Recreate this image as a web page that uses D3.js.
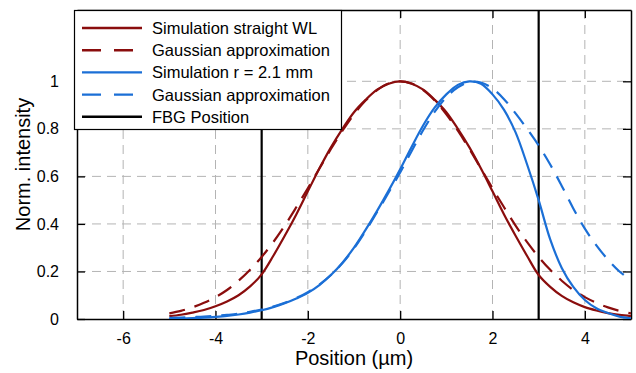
<!DOCTYPE html>
<html>
<head>
<meta charset="utf-8">
<script src="https://cdn.jsdelivr.net/npm/d3@7"></script>
<style>
  body { margin: 0; background: #fff; }
  text { font-family: "Liberation Sans", Arial, sans-serif; fill: #000; }
</style>
</head>
<body>
<div id="viz"></div>
<script>
// chart size
let w = 636;
let h = 373;

// data (position in um, normalised intensity)
let positions = [-5, -4.75, -4.5, -4.25, -4, -3.75, -3.5, -3.25, -3, -2.75, -2.5, -2.25, -2, -1.75, -1.5, -1.25, -1, -0.75, -0.5, -0.25,
                 0, 0.25, 0.5, 0.75, 1, 1.25, 1.5, 1.75, 2, 2.25, 2.5, 2.75, 3, 3.25, 3.5, 3.75, 4, 4.25, 4.5, 4.75, 5];
let simStraight = [0.012, 0.018, 0.027, 0.038, 0.054, 0.074, 0.1, 0.137, 0.188, 0.265, 0.35, 0.44, 0.537, 0.633, 0.722, 0.8, 0.87, 0.922, 0.965, 0.99,
                   1, 0.99, 0.965, 0.922, 0.87, 0.8, 0.722, 0.633, 0.537, 0.44, 0.35, 0.265, 0.185, 0.135, 0.097, 0.07, 0.05, 0.036, 0.025, 0.017, 0.012];
let gaussStraight = [0.024, 0.034, 0.049, 0.068, 0.092, 0.122, 0.161, 0.207, 0.261, 0.323, 0.393, 0.47, 0.55, 0.633, 0.715, 0.792, 0.861, 0.919, 0.963, 0.991,
                     1, 0.991, 0.963, 0.919, 0.861, 0.792, 0.715, 0.633, 0.55, 0.47, 0.393, 0.323, 0.261, 0.207, 0.161, 0.122, 0.092, 0.068, 0.049, 0.034, 0.024];
let simBent = [0.0, 0.002, 0.004, 0.006, 0.009, 0.013, 0.019, 0.027, 0.037, 0.05, 0.066, 0.086, 0.11, 0.143, 0.185, 0.237, 0.3, 0.375, 0.455, 0.54,
               0.63, 0.725, 0.815, 0.89, 0.945, 0.985, 1.0, 0.99, 0.945, 0.88, 0.785, 0.65, 0.5, 0.335, 0.215, 0.135, 0.08, 0.045, 0.025, 0.01, 0.003];
let gaussBent = [0.005, 0.006, 0.008, 0.01, 0.013, 0.017, 0.022, 0.03, 0.04, 0.052, 0.068, 0.088, 0.113, 0.145, 0.185, 0.235, 0.297, 0.37, 0.45, 0.532,
                 0.617, 0.707, 0.795, 0.872, 0.933, 0.975, 0.997, 0.995, 0.97, 0.925, 0.865, 0.8, 0.73, 0.65, 0.56, 0.465, 0.38, 0.31, 0.25, 0.2, 0.163];
let fbgPositions = [-3, 3];

let xTicks = [-6, -4, -2, 0, 2, 4];
let yTicks = [0, 0.2, 0.4, 0.6, 0.8, 1];
let legendLabels = ["Simulation straight WL", "Gaussian approximation", "Simulation r = 2.1 mm", "Gaussian approximation", "FBG Position"];

let red = "#8a0d0d";
let blue = "#1b6fd6";

let viz = d3.select("#viz")
  .append("svg")
    .attr("width", w)
    .attr("height", h)
;

// SCALES
let xScale = d3.scaleLinear().domain([-7, 5]).range([77, 631]);
let yScale = d3.scaleLinear().domain([0, 1.3]).range([319, 10]);

viz.append("defs").append("clipPath").attr("id", "plotclip")
  .append("rect")
    .attr("x", 77).attr("y", 10)
    .attr("width", 631 - 77).attr("height", 319 - 10);

// grid lines
viz.append("g").selectAll("line").data(xTicks).enter()
  .append("line")
    .attr("x1", d => xScale(d)).attr("x2", d => xScale(d))
    .attr("y1", yScale(0)).attr("y2", yScale(1.3))
    .attr("stroke", "#b4b4b4")
    .attr("stroke-width", 1)
    .attr("stroke-dasharray", "9,6");

viz.append("g").selectAll("line").data(yTicks.filter(d => d > 0)).enter()
  .append("line")
    .attr("x1", xScale(-7)).attr("x2", xScale(5))
    .attr("y1", d => yScale(d)).attr("y2", d => yScale(d))
    .attr("stroke", "#b4b4b4")
    .attr("stroke-width", 1)
    .attr("stroke-dasharray", "9,6");

// axes (MATLAB style: ticks inside, box all round)
let tickLen = 8;
let bottomAxis = d3.axisBottom(xScale).tickValues(xTicks).tickSizeInner(-tickLen).tickSizeOuter(0).tickPadding(14)
  .tickFormat(d => d < 0 ? "-" + Math.abs(d) : d);
let leftAxis = d3.axisLeft(yScale).tickValues(yTicks).tickSizeInner(-tickLen).tickSizeOuter(0).tickPadding(18)
  .tickFormat(d3.format("~g"));
let topAxis = d3.axisTop(xScale).tickValues(xTicks).tickSizeInner(-tickLen).tickSizeOuter(0).tickFormat("");
let rightAxis = d3.axisRight(yScale).tickValues(yTicks).tickSizeInner(-tickLen).tickSizeOuter(0).tickFormat("");

function styleAxis(g){
  g.select(".domain").attr("stroke", "#000").attr("stroke-width", 1.5);
  g.selectAll(".tick line").attr("stroke", "#000").attr("stroke-width", 1.3);
  g.selectAll("text").style("font-size", "16px").attr("fill", "#000")
    .style("font-family", "'Liberation Sans', Arial, sans-serif");
}

viz.append("g").attr("transform", "translate(0," + yScale(0) + ")").call(bottomAxis).call(styleAxis);
viz.append("g").attr("transform", "translate(" + xScale(-7) + ",0)").call(leftAxis).call(styleAxis);
viz.append("g").attr("transform", "translate(0," + yScale(1.3) + ")").call(topAxis).call(styleAxis);
viz.append("g").attr("transform", "translate(" + xScale(5) + ",0)").call(rightAxis).call(styleAxis);

// CURVES
let lineMaker = d3.line()
  .x((d, i) => xScale(positions[i]))
  .y(d => yScale(d))
  .curve(d3.curveCatmullRom.alpha(0.5));

let series = [
  { values: simStraight, color: red, dash: null },
  { values: gaussStraight, color: red, dash: "16,10" },
  { values: simBent, color: blue, dash: null },
  { values: gaussBent, color: blue, dash: "16,10" }
];

let curves = viz.append("g").attr("clip-path", "url(#plotclip)");

curves.selectAll(".fbg").data(fbgPositions).enter()
  .append("line")
    .attr("class", "fbg")
    .attr("x1", d => xScale(d)).attr("x2", d => xScale(d))
    .attr("y1", yScale(0)).attr("y2", yScale(1.3))
    .attr("stroke", "#000")
    .attr("stroke-width", 2.2);

curves.selectAll(".curve").data(series).enter()
  .append("path")
    .attr("class", "curve")
    .attr("d", d => lineMaker(d.values))
    .attr("fill", "none")
    .attr("stroke", d => d.color)
    .attr("stroke-width", 2.2)
    .attr("stroke-dasharray", d => d.dash);

// LEGEND
let legendColors = [red, red, blue, blue, "#000"];
let legendDash = [null, "19,13", null, "19,13", null];

let legend = viz.append("g");
legend.append("rect")
  .attr("x", 74.5).attr("y", 10.5)
  .attr("width", 267).attr("height", 119)
  .attr("fill", "#fff")
  .attr("stroke", "#000")
  .attr("stroke-width", 1.2);

let rows = legend.selectAll(".row").data(legendLabels).enter()
  .append("g")
    .attr("class", "row")
    .attr("transform", (d, i) => "translate(0," + (28 + i * 22.2) + ")");

rows.append("line")
  .attr("x1", 82).attr("x2", 142)
  .attr("y1", 0).attr("y2", 0)
  .attr("stroke", (d, i) => legendColors[i])
  .attr("stroke-width", 2.4)
  .attr("stroke-dasharray", (d, i) => legendDash[i]);

rows.append("text")
  .attr("x", 152)
  .attr("y", 6)
  .style("font-size", "16.5px")
  .text(d => d);

// AXIS TITLES
viz.append("text")
  .attr("x", (xScale(-7) + xScale(5)) / 2)
  .attr("y", 365)
  .attr("text-anchor", "middle")
  .style("font-size", "20px")
  .text("Position (µm)");

viz.append("text")
  .attr("transform", "translate(30," + (yScale(0) + yScale(1.3)) / 2 + ") rotate(-90)")
  .attr("text-anchor", "middle")
  .style("font-size", "20px")
  .text("Norm. intensity");
</script>
</body>
</html>
